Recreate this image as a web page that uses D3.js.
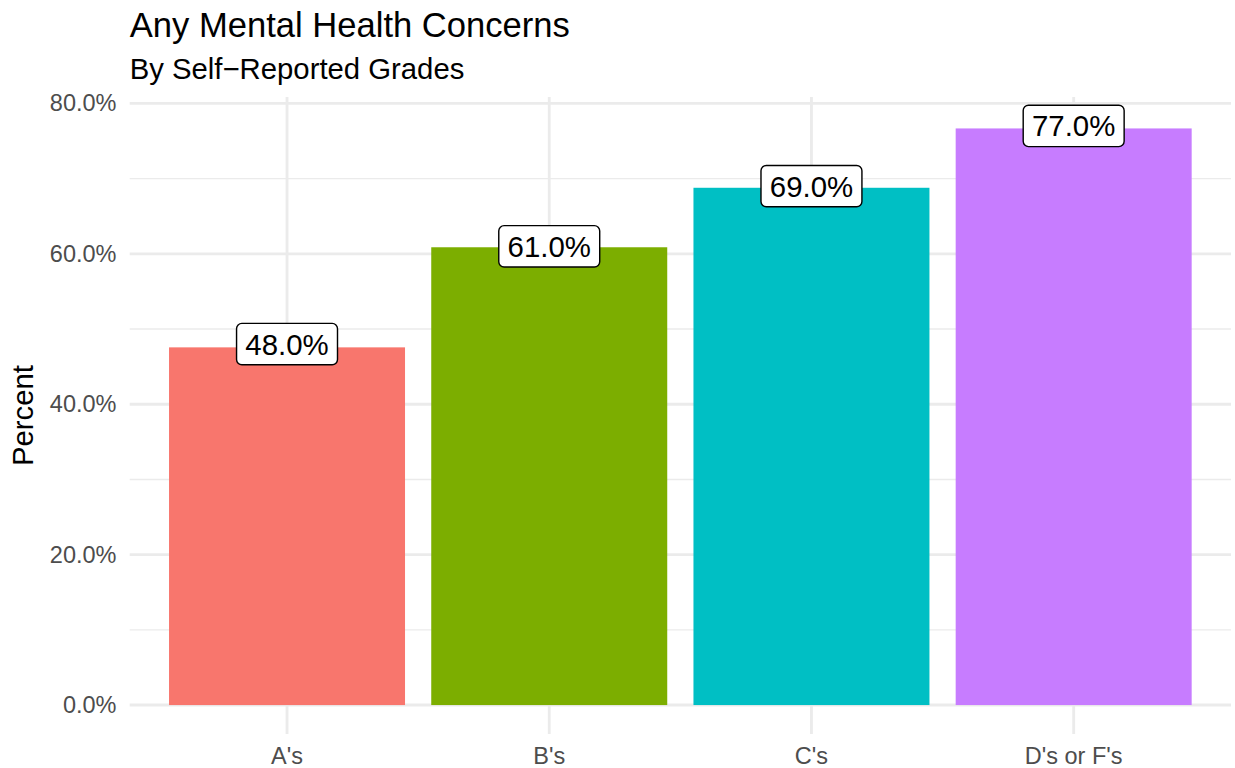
<!DOCTYPE html>
<html>
<head>
<meta charset="utf-8">
<script src="https://cdn.jsdelivr.net/npm/d3@7"></script>
<style>
  html, body { margin: 0; padding: 0; background: #ffffff; }
  svg { display: block; font-family: "Liberation Sans", Arial, Helvetica, sans-serif; }
</style>
</head>
<body>
<svg id="chart" width="1235" height="768"></svg>
<script>
// ---- data ----
const categories = ["A's", "B's", "C's", "D's or F's"];
const values = [0.4756, 0.6087, 0.6878, 0.7667];
const labelValues = [0.48, 0.61, 0.69, 0.77];
const colors = ["#F8766D", "#7CAE00", "#00BFC4", "#C77CFF"];
const yMajorTicks = [0, 0.2, 0.4, 0.6, 0.8];
const yMinorTicks = [0.1, 0.3, 0.5, 0.7];
const titleText = "Any Mental Health Concerns";
const subtitleText = "By Self\u2212Reported Grades";
const yAxisTitle = "Percent";

// ---- layout ----
const W = 1235, H = 768;
const panel = { left: 129.7, right: 1231, top: 97, bottom: 734 };
const fmt = d3.format(".1%");

const svg = d3.select("#chart");

const x = d3.scaleBand()
  .domain(categories)
  .range([panel.left, panel.right])
  .paddingInner(0.1)
  .paddingOuter(0.15);

const y = d3.scaleLinear()
  .domain([-0.0385, 0.8085])
  .range([panel.bottom, panel.top]);

// gridlines
const grid = svg.append("g");
grid.selectAll("line.minor").data(yMinorTicks).join("line")
  .attr("class", "minor")
  .attr("x1", panel.left).attr("x2", panel.right)
  .attr("y1", d => y(d)).attr("y2", d => y(d))
  .attr("stroke", "#EBEBEB").attr("stroke-width", 1.42);
grid.selectAll("line.majorY").data(yMajorTicks).join("line")
  .attr("class", "majorY")
  .attr("x1", panel.left).attr("x2", panel.right)
  .attr("y1", d => y(d)).attr("y2", d => y(d))
  .attr("stroke", "#EBEBEB").attr("stroke-width", 2.85);
grid.selectAll("line.majorX").data(categories).join("line")
  .attr("class", "majorX")
  .attr("x1", d => x(d) + x.bandwidth() / 2).attr("x2", d => x(d) + x.bandwidth() / 2)
  .attr("y1", panel.top).attr("y2", panel.bottom)
  .attr("stroke", "#EBEBEB").attr("stroke-width", 2.85);

// bars
svg.append("g").selectAll("rect").data(categories).join("rect")
  .attr("x", d => x(d))
  .attr("width", x.bandwidth())
  .attr("y", (d, i) => y(values[i]))
  .attr("height", (d, i) => y(0) - y(values[i]))
  .attr("fill", (d, i) => colors[i]);

// axes
const yAxis = svg.append("g")
  .attr("transform", `translate(${panel.left},0)`)
  .call(d3.axisLeft(y).tickValues(yMajorTicks).tickFormat(fmt).tickSize(0).tickPadding(13.2));
yAxis.select(".domain").remove();
yAxis.selectAll("text")
  .attr("font-size", 23.5).attr("fill", "#4D4D4D")
  .attr("font-family", "Liberation Sans, Arial, sans-serif");

const xAxis = svg.append("g")
  .attr("transform", `translate(0,${panel.bottom})`)
  .call(d3.axisBottom(x).tickSize(0).tickPadding(13.2));
xAxis.select(".domain").remove();
xAxis.selectAll("text")
  .attr("font-size", 23.5).attr("fill", "#4D4D4D")
  .attr("font-family", "Liberation Sans, Arial, sans-serif");

// labels
const labelFont = 29.4;
const pad = 8.8;
const lg = svg.append("g").selectAll("g").data(categories).join("g")
  .attr("transform", (d, i) => `translate(${x(d) + x.bandwidth() / 2},${y(labelValues[i])})`);
lg.each(function(d, i) {
  const g = d3.select(this);
  const t = g.append("text")
    .attr("text-anchor", "middle")
    .attr("y", 0.358 * labelFont)
    .attr("font-size", labelFont)
    .attr("fill", "#000")
    .text(fmt(labelValues[i]));
  const w = t.node().getComputedTextLength() + 2 * pad;
  const h = 41.3;
  g.insert("rect", "text")
    .attr("x", -w / 2).attr("y", -h / 2)
    .attr("width", w).attr("height", h)
    .attr("rx", 5.3).attr("ry", 5.3)
    .attr("fill", "#ffffff").attr("stroke", "#000").attr("stroke-width", 1.42);
});

// titles
svg.append("text")
  .attr("x", panel.left).attr("y", 37)
  .attr("font-size", 34.6).attr("fill", "#000")
  .text(titleText);
svg.append("text")
  .attr("x", panel.left).attr("y", 79)
  .attr("font-size", 29.3).attr("fill", "#000")
  .text(subtitleText);
svg.append("text")
  .attr("transform", `translate(33.3,${(panel.top + panel.bottom) / 2}) rotate(-90)`)
  .attr("text-anchor", "middle")
  .attr("font-size", 29.3).attr("fill", "#000")
  .text(yAxisTitle);
</script>
</body>
</html>
